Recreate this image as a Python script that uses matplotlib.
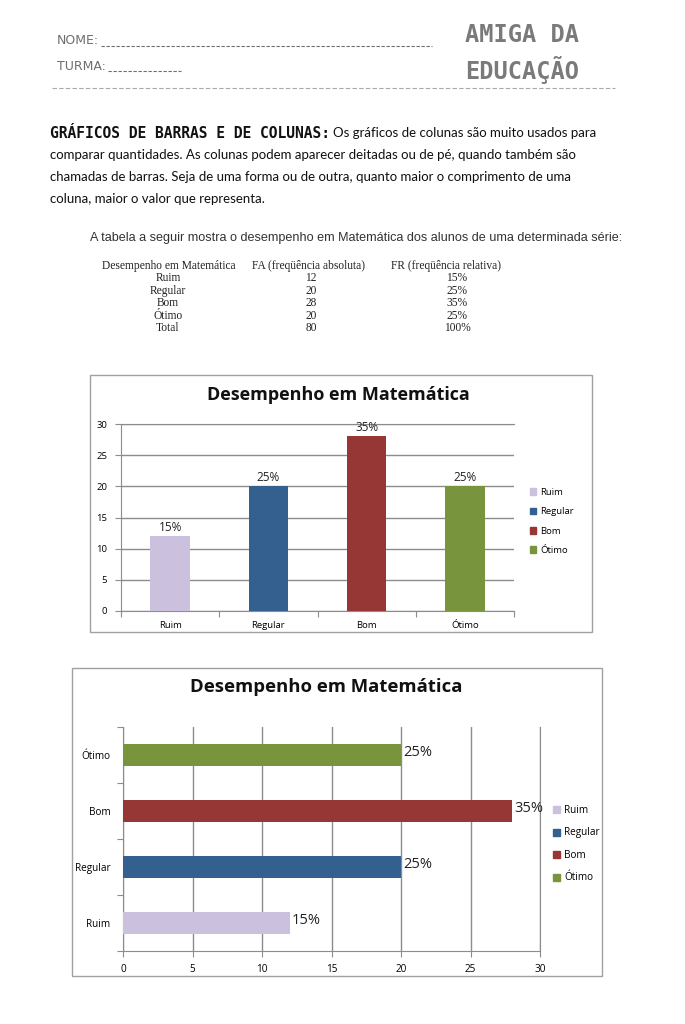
import matplotlib.pyplot as plt
from matplotlib.patches import Rectangle, Patch
from matplotlib.lines import Line2D
import numpy as np

# dados
categorias = ['Ruim', 'Regular', 'Bom', 'Ótimo']
fa = [12, 20, 28, 20]
fr = [15, 25, 35, 25]
total_fa = 80
total_fr = 100
cores = ['#CBC0DD', '#34608F', '#963735', '#78953D']

W, H = 685, 1024
fig = plt.figure(figsize=(W / 100, H / 100), dpi=100)


def fx(x):
    return x / W


def fy(y):
    return 1 - y / H


def rect(x0, y0, x1, y1):
    return [fx(x0), fy(y1), (x1 - x0) / W, (y1 - y0) / H]


# cabeçalho
cinza = '#6e6e6e'
fig.text(fx(57), fy(41), 'NOME:', fontsize=9, color=cinza, family='DejaVu Sans', va='center')
fig.add_artist(Line2D([fx(101), fx(432)], [fy(46), fy(46)], color=cinza, lw=0.8, linestyle=(0, (3, 1.5))))
fig.text(fx(57), fy(66), 'TURMA:', fontsize=9, color=cinza, family='DejaVu Sans', va='center')
fig.add_artist(Line2D([fx(108), fx(181)], [fy(71), fy(71)], color=cinza, lw=0.8, linestyle=(0, (3, 1.5))))
fig.text(fx(465), fy(35), 'AMIGA DA', fontsize=17, color='#7a7a7a', family='DejaVu Sans Mono',
         weight='bold', va='center')
fig.text(fx(465), fy(70), 'EDUCAÇÃO', fontsize=17, color='#7a7a7a', family='DejaVu Sans Mono',
         weight='bold', va='center')
fig.add_artist(Line2D([fx(52), fx(615)], [fy(88), fy(88)], color='#aaaaaa', lw=0.8, linestyle=(0, (4, 2))))

# texto introdutório
corpo = dict(fontsize=9.55, color='#111111', family='Lato', va='center')
fig.text(fx(50), fy(133), 'GRÁFICOS DE BARRAS E DE COLUNAS:', fontsize=10.5, weight='bold',
         family='DejaVu Sans Mono', color='#111111', va='center')
fig.text(fx(333), fy(133), 'Os gráficos de colunas são muito usados para', **corpo)
fig.text(fx(50), fy(155), 'comparar quantidades. As colunas podem aparecer deitadas ou de pé, quando também são', **corpo)
fig.text(fx(50), fy(177), 'chamadas de barras. Seja de uma forma ou de outra, quanto maior o comprimento de uma', **corpo)
fig.text(fx(50), fy(199), 'coluna, maior o valor que representa.', **corpo)

fig.text(fx(90), fy(238), 'A tabela a seguir mostra o desempenho em Matemática dos alunos de uma determinada série:',
         fontsize=9.05, color='#333333', family='Liberation Sans', va='center')

# tabela
tab = dict(fontsize=8.3, family='Liberation Serif', color='#222222', va='center', ha='center')
fig.text(fx(169), fy(266), 'Desempenho em Matemática', **tab)
fig.text(fx(309), fy(266), 'FA (freqüência absoluta)', **tab)
fig.text(fx(446), fy(266), 'FR (freqüência relativa)', **tab)
linhas = categorias + ['Total']
vals_fa = fa + [total_fa]
vals_fr = fr + [total_fr]
for i, (c, a, r) in enumerate(zip(linhas, vals_fa, vals_fr)):
    y = 278 + i * 12.6
    fig.text(fx(168), fy(y), c, **tab)
    fig.text(fx(311), fy(y), str(a), **tab)
    fig.text(fx(457), fy(y), f'{r}%', **tab)

grade = '#8c8c8c'
fonte = 'Open Sans'

# ---------- gráfico de colunas ----------
fig.add_artist(Rectangle((fx(90), fy(632)), (592 - 90) / W, (632 - 375) / H,
                         transform=fig.transFigure, fill=False, ec='#a0a0a0', lw=1))
fig.text(fx(338), fy(395), 'Desempenho em Matemática', fontsize=13, weight='bold',
         family=fonte, ha='center', va='center', color='#111111')
ax1 = fig.add_axes(rect(121, 424, 514, 611))
x = np.arange(len(categorias))
ax1.bar(x, fa, width=0.4, color=cores, zorder=3)
for xi, v, p in zip(x, fa, fr):
    ax1.text(xi, v + 0.4, f'{p}%', ha='center', va='bottom', fontsize=8.5, family=fonte, color='#222222')
ax1.set_xlim(-0.5, 3.5)
ax1.set_ylim(0, 30)
ax1.set_yticks(range(0, 31, 5))
ax1.yaxis.grid(True, color=grade, lw=1, zorder=0)
ax1.set_xticks(np.arange(-0.5, 4, 1))
ax1.set_xticklabels([])
ax1.set_xticks(x, minor=True)
ax1.set_xticklabels(categorias, minor=True)
ax1.tick_params(axis='x', which='major', length=4, color=grade, direction='out')
ax1.tick_params(axis='x', which='minor', length=0, pad=7, labelsize=6.8)
ax1.tick_params(axis='y', length=4, color=grade, labelsize=6.8, pad=6)
for lab in ax1.get_xticklabels(minor=True) + ax1.get_yticklabels():
    lab.set_family(fonte)
ax1.spines['right'].set_visible(False)
for s in ['left', 'bottom', 'top']:
    ax1.spines[s].set_color(grade)
handles = [Patch(color=c, label=l) for c, l in zip(cores, categorias)]
fig.legend(handles=handles, loc='upper left', bbox_to_anchor=(fx(525), fy(483)),
           bbox_transform=fig.transFigure, frameon=False, handlelength=0.7, handleheight=0.7,
           handletextpad=0.4, labelspacing=1.1, prop={'family': fonte, 'size': 6.8}, borderpad=0)

# ---------- gráfico de barras ----------
fig.add_artist(Rectangle((fx(72), fy(976)), (602 - 72) / W, (976 - 668) / H,
                         transform=fig.transFigure, fill=False, ec='#a0a0a0', lw=1))
fig.text(fx(326), fy(687), 'Desempenho em Matemática', fontsize=13.3, weight='bold',
         family=fonte, ha='center', va='center', color='#111111')
ax2 = fig.add_axes(rect(123, 727, 540, 951))
y = np.arange(len(categorias))
ax2.barh(y, fa, height=0.4, color=cores, zorder=3)
for yi, v, p in zip(y, fa, fr):
    ax2.text(v + 0.15, yi + 0.05, f'{p}%', ha='left', va='center',
             fontsize=10.5, family=fonte, color='#222222', zorder=4)
ax2.set_ylim(-0.5, 3.5)
ax2.set_xlim(0, 30)
ax2.set_xticks(range(0, 31, 5))
ax2.xaxis.grid(True, color=grade, lw=1, zorder=0)
ax2.set_yticks(np.arange(-0.5, 4, 1))
ax2.set_yticklabels([])
ax2.set_yticks(y, minor=True)
ax2.set_yticklabels(categorias, minor=True)
ax2.tick_params(axis='y', which='major', length=4, color=grade, direction='out')
ax2.tick_params(axis='y', which='minor', length=0, pad=9, labelsize=7.2)
ax2.tick_params(axis='x', length=4, color=grade, labelsize=7.2, pad=5)
for lab in ax2.get_yticklabels(minor=True) + ax2.get_xticklabels():
    lab.set_family(fonte)
ax2.spines['top'].set_visible(False)
for s in ['left', 'bottom', 'right']:
    ax2.spines[s].set_color(grade)
fig.legend(handles=handles, loc='upper left', bbox_to_anchor=(fx(548), fy(800)),
           bbox_transform=fig.transFigure, frameon=False, handlelength=0.7, handleheight=0.7,
           handletextpad=0.4, labelspacing=1.15, prop={'family': fonte, 'size': 7.2}, borderpad=0)

plt.savefig('out.png', dpi=100)
